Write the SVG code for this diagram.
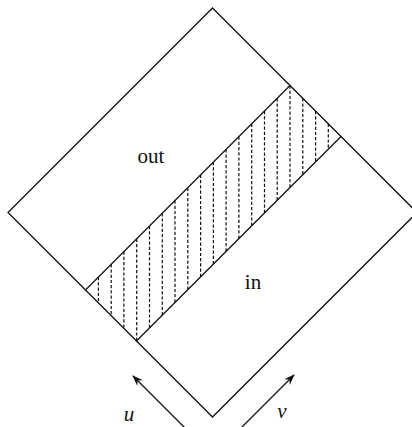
<svg xmlns="http://www.w3.org/2000/svg" width="412" height="427" viewBox="0 0 412 427">
<style>
.edge{fill:none;stroke:#111;stroke-width:1.3;stroke-linejoin:miter}
.dot{fill:none;stroke:#111;stroke-width:1.2;stroke-dasharray:3.2 2}
.lbl{font-family:"Liberation Serif","DejaVu Serif",serif;font-size:21px;fill:#111;text-anchor:middle}
.var{font-family:"Liberation Serif","DejaVu Serif",serif;font-style:italic;font-size:21px;fill:#111;text-anchor:middle}
.arr{fill:none;stroke:#111;stroke-width:1.3}
</style>
<defs>
<marker id="ah" viewBox="0 0 11 8" refX="10" refY="4" markerWidth="11" markerHeight="8" markerUnits="userSpaceOnUse" orient="auto">
<path d="M0,0 L11,4 L0,8 L3.5,4 z" fill="#111"/>
</marker>
</defs>
<g id="diamond">
<polygon class="edge" points="212.5,8 417,212.5 212.5,417 8,212.5"/>
</g>
<g id="band">
<line class="edge" x1="85.5" y1="290" x2="290" y2="85.5"/>
<line class="edge" x1="136.7" y1="340.8" x2="341" y2="136.5"/>
<g id="hatching">
<line class="dot" x1="98.4" y1="277.1" x2="98.4" y2="302.9"/>
<line class="dot" x1="111.2" y1="264.3" x2="111.2" y2="315.7"/>
<line class="dot" x1="123.9" y1="251.6" x2="123.9" y2="328.4"/>
<line class="dot" x1="136.7" y1="238.8" x2="136.7" y2="341.2"/>
<line class="dot" x1="149.5" y1="226" x2="149.5" y2="328"/>
<line class="dot" x1="162.3" y1="213.2" x2="162.3" y2="315.2"/>
<line class="dot" x1="175" y1="200.5" x2="175" y2="302.5"/>
<line class="dot" x1="187.8" y1="187.7" x2="187.8" y2="289.7"/>
<line class="dot" x1="200.6" y1="174.9" x2="200.6" y2="276.9"/>
<line class="dot" x1="213.4" y1="162.1" x2="213.4" y2="264.1"/>
<line class="dot" x1="226.1" y1="149.4" x2="226.1" y2="251.4"/>
<line class="dot" x1="238.9" y1="136.6" x2="238.9" y2="238.6"/>
<line class="dot" x1="251.7" y1="123.8" x2="251.7" y2="225.8"/>
<line class="dot" x1="264.5" y1="111" x2="264.5" y2="213"/>
<line class="dot" x1="277.2" y1="98.3" x2="277.2" y2="200.3"/>
<line class="dot" x1="290" y1="85.5" x2="290" y2="187.5"/>
<line class="dot" x1="302.8" y1="98.3" x2="302.8" y2="174.7"/>
<line class="dot" x1="315.6" y1="111.1" x2="315.6" y2="161.9"/>
<line class="dot" x1="328.3" y1="123.8" x2="328.3" y2="149.2"/>
</g>
</g>
<g id="label-out"><text class="lbl" x="151" y="163">out</text></g>
<g id="label-in"><text class="lbl" x="253" y="289">in</text></g>
<g id="connectors">
<line class="arr" x1="185" y1="428" x2="133" y2="376" marker-end="url(#ah)"/>
<line class="arr" x1="241" y1="428" x2="294" y2="375" marker-end="url(#ah)"/>
</g>
<g id="label-u"><text class="var" x="129" y="421">u</text></g>
<g id="label-v"><text class="var" x="282" y="418">v</text></g>
</svg>
